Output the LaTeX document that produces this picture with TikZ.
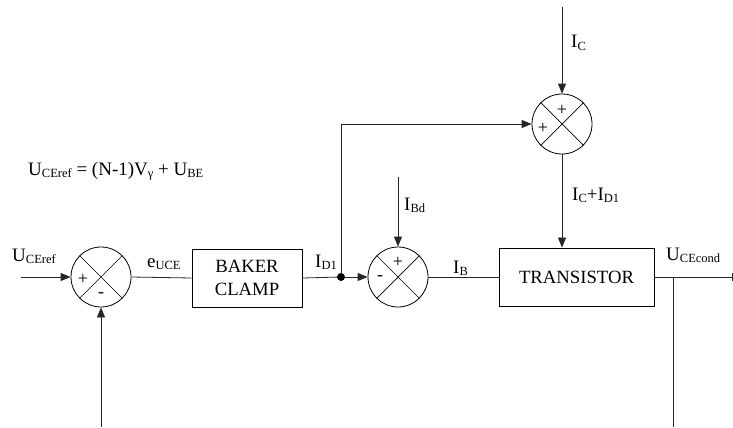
\documentclass[tikz,border=0pt]{standalone}
\usepackage{fontspec}
\setmainfont{Liberation Serif}
\usepackage{tikz}
\usetikzlibrary{arrows.meta,positioning,calc}

% lowered small index, as in the signal names
\newcommand{\idx}[1]{\raisebox{-2.5pt}{\fontsize{12.5}{12.5}\selectfont #1}}

\begin{document}
\begin{tikzpicture}[
    x=1pt, y=-1pt,
    blockBox/.style={
        rectangle,
        draw=black, line width=0.9pt,
        minimum height=58pt,
        align=center, inner sep=2pt,
        font=\fontsize{18.7}{22.5}\selectfont
    },
    sumNode/.style={
        circle,
        draw=black, line width=0.8pt,
        minimum size=60pt, inner sep=0pt
    },
    signText/.style={font=\fontsize{18}{18}\selectfont, inner sep=0pt},
    sigText/.style={font=\fontsize{19}{19}\selectfont, inner sep=0pt, anchor=base west},
    sigArrow/.style={
        -{Triangle[length=10pt, width=8pt]}, line width=0.8pt, draw=black!85
    },
    sigLine/.style={line width=0.8pt, draw=black!85}
]
    \useasboundingbox (0,0) rectangle (733,428);

    % Blocks
    \node[blockBox, minimum width=110pt] (baker) at (247, 278) {BAKER\\CLAMP};
    \node[blockBox, minimum width=155pt] (transistor) at (576.5, 277) {TRANSISTOR};

    % Summing junctions
    \node[sumNode] (sumErr) at (101, 277) {};
    \node[sumNode] (sumBase) at (398, 277) {};
    \node[sumNode] (sumColl) at (562, 124) {};
    \foreach \s in {sumErr, sumBase, sumColl} {
        \draw[line width=0.7pt] (\s.north west) -- (\s.south east)
                                (\s.north east) -- (\s.south west);
    }

    % Signs
    \node[signText] (errPlus)  at ([xshift=-18pt, yshift=-2pt]sumErr.center) {+};
    \node[signText] (errMinus) at ([yshift=-18pt]sumErr.center) {-};
    \node[signText] (basePlus)  at ([yshift=15pt]sumBase.center) {+};
    \node[signText] (baseMinus) at ([xshift=-18pt, yshift=-1pt]sumBase.center) {-};
    \node[signText] (collPlusA) at ([yshift=14pt]sumColl.center) {+};
    \node[signText] (collPlusB) at ([xshift=-19pt, yshift=-4pt]sumColl.center) {+};

    % Free ends and branch points
    \coordinate (refIn) at (21, 277);
    \coordinate (fbIn) at (101, 427);
    \coordinate (icIn) at (562, 7);
    \coordinate (ibdIn) at (398, 177);
    \coordinate (outEnd) at (742, 277);
    \coordinate (fbOut) at (673, 427);
    \coordinate (fbTap) at (673, 277);
    \node[circle, fill=black, inner sep=0pt, minimum size=8pt] (tapD1) at (341, 277) {};

    % Signal labels
    \node[sigText] (lblRef) at (12, 261) {U\idx{CEref}};
    \node[sigText] (lblErr) at (147, 267) {e\idx{UCE}};
    \node[sigText] (lblD1) at (315, 267) {I\idx{D1}};
    \node[sigText] (lblB) at (453, 273) {I\idx{B}};
    \node[sigText] (lblBd) at (404, 210) {I\idx{Bd}};
    \node[sigText] (lblC) at (571, 48) {I\idx{C}};
    \node[sigText] (lblSum) at (572, 200) {I\idx{C}+I\idx{D1}};
    \node[sigText] (lblOut) at (666, 260) {U\idx{CEcond}};
    \node[sigText] (formula) at (28, 175) {U\idx{CEref} = (N-1)V\idx{γ} + U\idx{BE}};

    % Connections
    \draw[sigArrow] (refIn) -- (sumErr.west);
    \draw[sigArrow] (fbIn) -- (sumErr.south);
    \draw[sigLine] (sumErr.east) -- (baker.west);
    \draw[sigLine] (baker.east) -- (tapD1);
    \draw[sigArrow] (tapD1) -- (sumBase.west);
    \draw[sigArrow] (tapD1) |- (sumColl.west);
    \draw[sigArrow] (ibdIn) -- (sumBase.north);
    \draw[sigArrow] (icIn) -- (sumColl.north);
    \draw[sigArrow] (sumColl.south) -- (sumColl.south |- transistor.north);
    \draw[sigLine] (sumBase.east) -- (transistor.west);
    \draw[sigArrow] (transistor.east) -- (outEnd);
    \draw[sigLine] (fbTap) -- (fbOut);

\end{tikzpicture}
\end{document}
